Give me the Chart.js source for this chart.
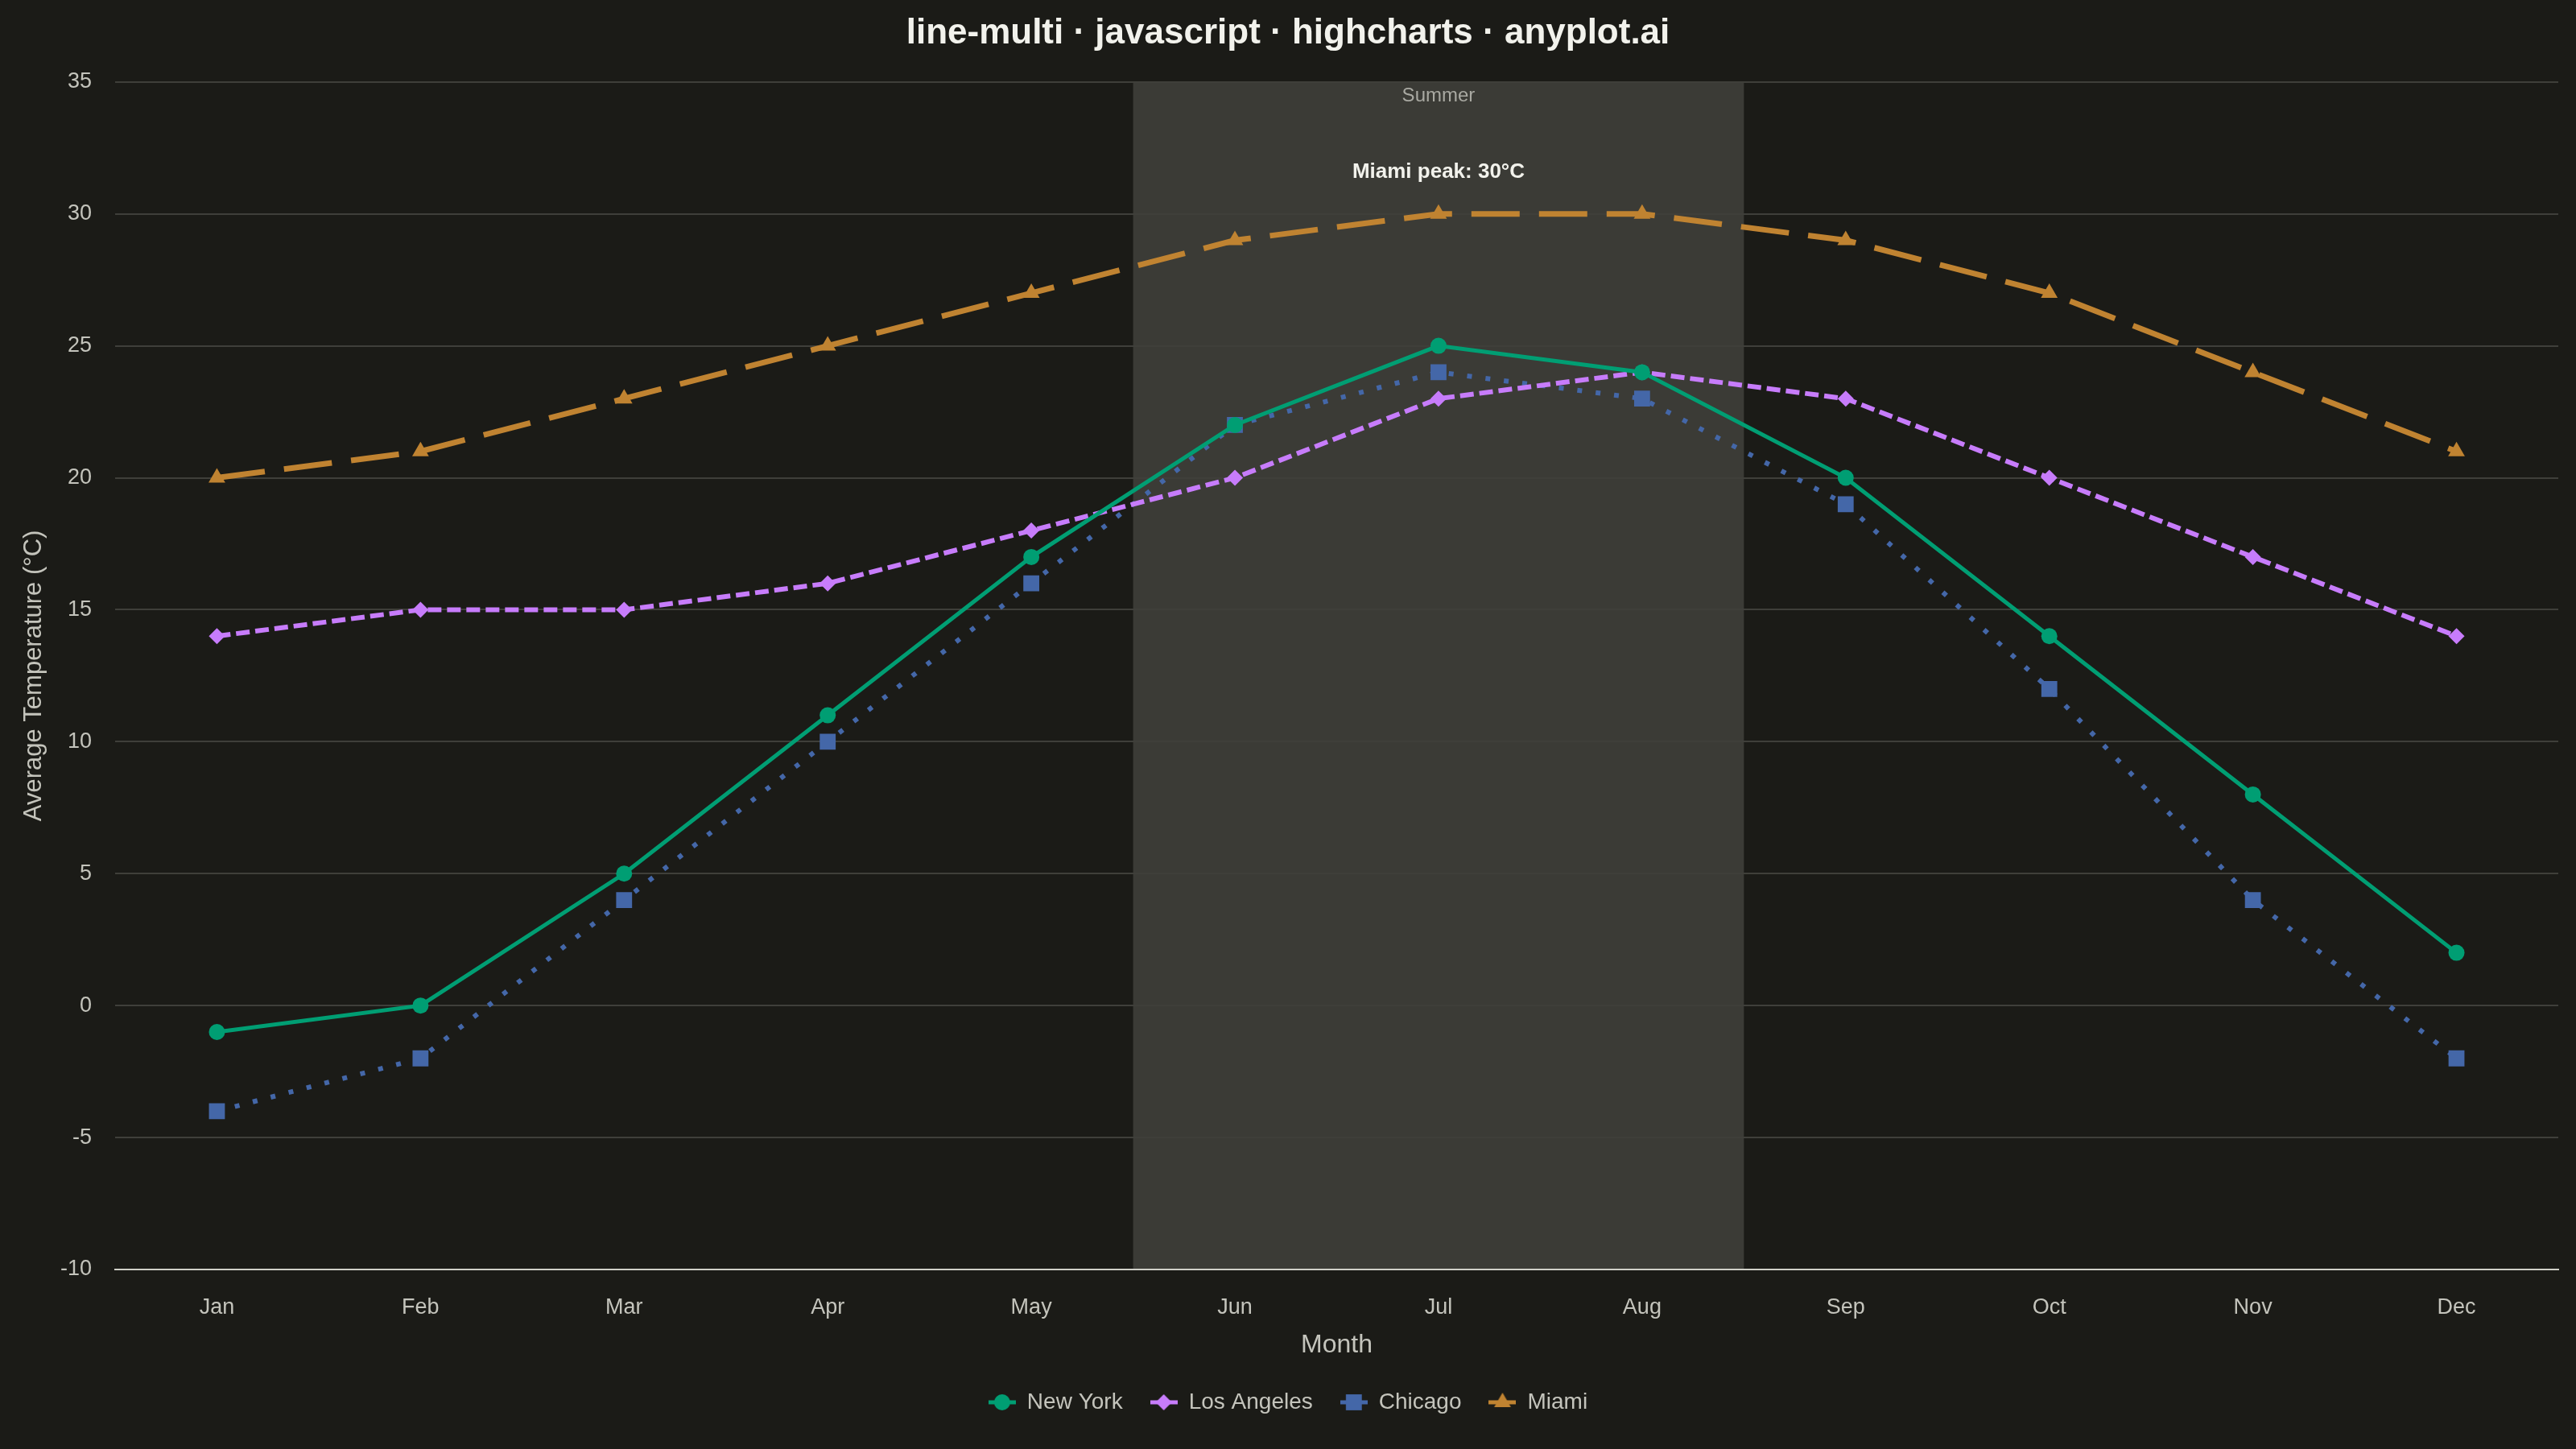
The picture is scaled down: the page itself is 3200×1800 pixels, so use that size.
<!DOCTYPE html>
<html>
<head>
<meta charset="utf-8">
<script src="https://cdn.jsdelivr.net/npm/chart.js@4/dist/chart.umd.min.js"></script>
<style>
html,body{margin:0;padding:0;background:#1b1b17;}
canvas{display:block;}
</style>
</head>
<body>
<canvas id="c" width="3200" height="1800"></canvas>
<script>
// ---- data ----
const months = ['Jan','Feb','Mar','Apr','May','Jun','Jul','Aug','Sep','Oct','Nov','Dec'];
const newYork = [-1, 0, 5, 11, 17, 22, 25, 24, 20, 14, 8, 2];
const losAngeles = [14, 15, 15, 16, 18, 20, 23, 24, 23, 20, 17, 14];
const chicago = [-4, -2, 4, 10, 16, 22, 24, 23, 19, 12, 4, -2];
const miami = [20, 21, 23, 25, 27, 29, 30, 30, 29, 27, 24, 21];
const yTicks = [-10, -5, 0, 5, 10, 15, 20, 25, 30, 35];
const summerStart = 'Jun';
const summerEnd = 'Aug';
const summerLabel = 'Summer';
const peakMonth = 'Jul';
const peakValue = 30;
const peakLabel = 'Miami peak: 30°C';

// ---- styles ----
const BG = '#1b1b17';
const BAND = '#3b3b36';
const GRID = '#3f3f3a';
const TEXT = '#c4c4bc';
const FONT = "'Liberation Sans', Arial, sans-serif";

const series = [
  {label:'New York', data:newYork, color:'#009E73', style:'circle', r:10, width:5, dash:[]},
  {label:'Los Angeles', data:losAngeles, color:'#C77CFB', style:'rectRot', r:10, width:6, dash:[17,7]},
  {label:'Chicago', data:chicago, color:'#4467A8', style:'rect', r:14, width:6, dash:[6,17]},
  {label:'Miami', data:miami, color:'#C08331', style:'triangle', r:12, width:7, dash:[60,24]}
];

function legendSymbol(s) {
  const cv = document.createElement('canvas');
  cv.width = 34; cv.height = 26;
  const ctx = cv.getContext('2d');
  ctx.strokeStyle = s.color;
  ctx.lineWidth = 5;
  ctx.beginPath(); ctx.moveTo(0, 13); ctx.lineTo(34, 13); ctx.stroke();
  ctx.fillStyle = s.color;
  Chart.helpers.drawPoint(ctx, {pointStyle: s.style, radius: s.r, rotation: 0, borderWidth: 0}, 17, 13);
  return cv;
}

const bandPlugin = {
  id: 'band',
  beforeDraw(chart) {
    const {ctx, chartArea: a, scales: {x}} = chart;
    ctx.save();
    ctx.fillStyle = BG;
    ctx.fillRect(0, 0, chart.width, chart.height);
    const i0 = months.indexOf(summerStart), i1 = months.indexOf(summerEnd);
    const x0 = x.getPixelForValue(i0 - 0.5), x1 = x.getPixelForValue(i1 + 0.5);
    ctx.fillStyle = BAND;
    ctx.fillRect(x0, a.top, x1 - x0, a.bottom - a.top);
    ctx.restore();
  },
  afterDraw(chart) {
    const {ctx, chartArea: a, scales: {x, y}} = chart;
    ctx.save();
    const i0 = months.indexOf(summerStart), i1 = months.indexOf(summerEnd);
    const cx = (x.getPixelForValue(i0 - 0.5) + x.getPixelForValue(i1 + 0.5)) / 2;
    ctx.textAlign = 'center';
    ctx.textBaseline = 'middle';
    ctx.fillStyle = '#a9a9a2';
    ctx.font = '24px ' + FONT;
    ctx.fillText(summerLabel, cx, a.top + 18);
    const px = x.getPixelForValue(months.indexOf(peakMonth));
    const py = y.getPixelForValue(peakValue);
    ctx.fillStyle = '#f2f2ec';
    ctx.font = 'bold 26px ' + FONT;
    ctx.fillText(peakLabel, px, py - 52);
    ctx.restore();
  }
};

new Chart(document.getElementById('c'), {
  type: 'line',
  data: {
    labels: months,
    datasets: series.map(s => ({
      label: s.label,
      data: s.data,
      borderColor: s.color,
      backgroundColor: s.color,
      borderWidth: s.width,
      borderDash: s.dash,
      borderCapStyle: 'butt',
      pointStyle: s.style,
      pointRadius: s.r,
      pointHoverRadius: s.r,
      pointBorderWidth: 0,
      pointBackgroundColor: s.color,
      tension: 0,
      fill: false
    }))
  },
  options: {
    responsive: false,
    devicePixelRatio: 1,
    animation: false,
    layout: {padding: {left: 22, right: 22, top: 0, bottom: 34}},
    plugins: {
      title: {
        display: true,
        text: 'line-multi · javascript · highcharts · anyplot.ai',
        color: '#f2f2ec',
        font: {family: FONT, size: 44, weight: 'bold'},
        padding: {top: 15, bottom: 34}
      },
      legend: {
        position: 'bottom',
        labels: {
          color: TEXT,
          font: {family: FONT, size: 28},
          usePointStyle: true,
          pointStyleWidth: 34,
          padding: 34,
          generateLabels(chart) {
            return series.map((s, i) => ({
              text: s.label,
              fillStyle: s.color,
              strokeStyle: s.color,
              lineWidth: 0,
              pointStyle: legendSymbol(s),
              hidden: false,
              datasetIndex: i,
              fontColor: TEXT
            }));
          }
        }
      },
      tooltip: {enabled: false}
    },
    scales: {
      x: {
        offset: true,
        grid: {display: false, drawTicks: false},
        border: {display: true, color: '#cfcfc7', width: 2},
        ticks: {color: TEXT, font: {family: FONT, size: 27}, padding: 31},
        title: {display: true, text: 'Month', color: TEXT, font: {family: FONT, size: 32}, padding: {top: 10, bottom: 4}},
        afterFit(axis) { axis.height = 117; }
      },
      y: {
        min: yTicks[0],
        max: yTicks[yTicks.length - 1],
        afterBuildTicks(axis) { axis.ticks = yTicks.map(v => ({value: v})); },
        grid: {color: GRID, lineWidth: 2, drawTicks: false},
        border: {display: false},
        ticks: {color: TEXT, font: {family: FONT, size: 27}, padding: 29},
        title: {display: true, text: 'Average Temperature (°C)', color: TEXT, font: {family: FONT, size: 31}, padding: {top: 2, bottom: 0}},
        afterFit(axis) { axis.width = 121; }
      }
    }
  },
  plugins: [bandPlugin]
});
</script>
</body>
</html>
